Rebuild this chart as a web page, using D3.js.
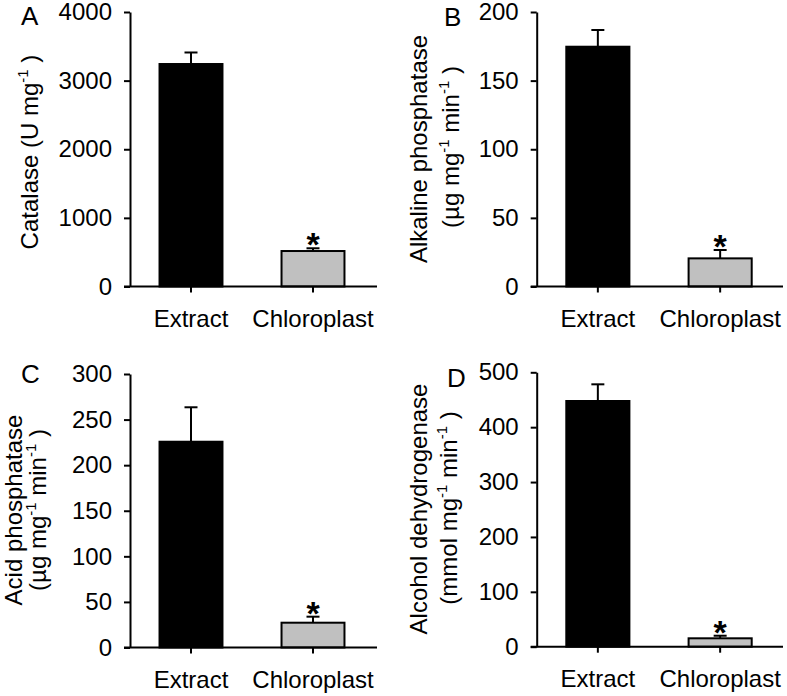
<!DOCTYPE html>
<html>
<head>
<meta charset="utf-8">
<script src="https://cdn.jsdelivr.net/npm/d3@7"></script>
<style>
  body { margin: 0; background: #fff; }
  svg { display: block; font-family: "Liberation Sans", Arial, Helvetica, sans-serif; }
</style>
</head>
<body>
<svg id="chart" width="787" height="696"></svg>
<script>
// ---------------- data ----------------
const categories = ["Extract", "Chloroplast"];
const significant = [false, true];

const catalaseValues = [3242, 517];
const catalaseErrors = [168, 40];
const catalaseTicks = [0, 1000, 2000, 3000, 4000];

const alkalineValues = [174.7, 20.5];
const alkalineErrors = [12.2, 6.1];
const alkalineTicks = [0, 50, 100, 150, 200];

const acidValues = [225.7, 27.2];
const acidErrors = [37.8, 6.6];
const acidTicks = [0, 50, 100, 150, 200, 250, 300];

const adhValues = [447.7, 15.3];
const adhErrors = [30.4, 4.7];
const adhTicks = [0, 100, 200, 300, 400, 500];

const panelLetters = ["A", "B", "C", "D"];
// y titles: array of lines; each line = array of [text, isSuperscript]
const titleA = [[["Catalase (U mg", false], ["-1", true], [" )", false]]];
const titleB = [[["Alkaline phosphatase", false]],
                [["(µg mg", false], ["-1", true], [" min", false], ["-1", true], [" )", false]]];
const titleC = [[["Acid phosphatase", false]],
                [["(µg mg", false], ["-1", true], [" min", false], ["-1", true], [" )", false]]];
const titleD = [[["Alcohol dehydrogenase", false]],
                [["(mmol mg", false], ["-1", true], [" min", false], ["-1", true], [" )", false]]];

// ---------------- layout ----------------
const FONT = 24;
const panels = [
  { letter: panelLetters[0], values: catalaseValues, errors: catalaseErrors, ticks: catalaseTicks, title: titleA,
    axisX: 130, band: [130, 374], xEnd: 377, yTop: 12, y0: 286.5,
    letterPos: [21, 25], titlePos: [[38, 152]] },
  { letter: panelLetters[1], values: alkalineValues, errors: alkalineErrors, ticks: alkalineTicks, title: titleB,
    axisX: 536.7, band: [536.7, 781.3], xEnd: 783, yTop: 12, y0: 286.5,
    letterPos: [444, 25.5], titlePos: [[427, 149], [459, 147]] },
  { letter: panelLetters[2], values: acidValues, errors: acidErrors, ticks: acidTicks, title: titleC,
    axisX: 130, band: [130, 374], xEnd: 377, yTop: 374, y0: 647.5,
    letterPos: [21, 383], titlePos: [[22, 510], [46, 510]] },
  { letter: panelLetters[3], values: adhValues, errors: adhErrors, ticks: adhTicks, title: titleD,
    axisX: 536.7, band: [536.7, 781.3], xEnd: 783, yTop: 372.3, y0: 646.7,
    letterPos: [447, 387], titlePos: [[427, 509], [457, 508]] }
];

const svg = d3.select("#chart");

panels.forEach(p => {
  const g = svg.append("g");
  const maxTick = p.ticks[p.ticks.length - 1];
  const y = d3.scaleLinear().domain([0, maxTick]).range([p.y0, p.yTop]);
  const x = d3.scaleBand().domain(categories).range(p.band).paddingInner(0.484).paddingOuter(0.242);

  // y axis
  const yAxis = d3.axisLeft(y).tickValues(p.ticks).tickSize(6).tickSizeOuter(0).tickPadding(12).tickFormat(d3.format("d"));
  const ya = g.append("g").attr("transform", `translate(${p.axisX},0)`).call(yAxis);
  ya.select(".domain").attr("stroke-width", 2);
  ya.selectAll(".tick line").attr("stroke-width", 2);
  ya.selectAll(".tick text").attr("font-size", FONT).attr("font-family", null).attr("fill", "#000");

  // bars
  g.selectAll(".bar").data(categories).enter().append("rect")
    .attr("x", d => x(d))
    .attr("width", x.bandwidth())
    .attr("y", (d, i) => y(p.values[i]))
    .attr("height", (d, i) => p.y0 - y(p.values[i]))
    .attr("fill", (d, i) => i === 0 ? "#000" : "#c0c0c0")
    .attr("stroke", "#000")
    .attr("stroke-width", 2);

  // error bars
  categories.forEach((c, i) => {
    const cx = x(c) + x.bandwidth() / 2;
    const yv = y(p.values[i]);
    const ye = y(p.values[i] + p.errors[i]);
    g.append("line").attr("x1", cx).attr("x2", cx).attr("y1", yv).attr("y2", ye)
      .attr("stroke", "#000").attr("stroke-width", 2);
    g.append("line").attr("x1", cx - 6.5).attr("x2", cx + 6.5).attr("y1", ye).attr("y2", ye)
      .attr("stroke", "#000").attr("stroke-width", 2);
    if (significant[i]) {
      g.append("text").attr("x", cx).attr("y", ye + 8)
        .attr("text-anchor", "middle").attr("font-size", 34).attr("font-weight", "bold")
        .text("*");
    }
  });

  // x axis
  const xAxis = d3.axisBottom(x).tickSize(6).tickSizeOuter(0).tickPadding(17);
  const xa = g.append("g").attr("transform", `translate(0,${p.y0})`).call(xAxis);
  xa.select(".domain").remove();
  xa.selectAll(".tick line").attr("stroke-width", 2);
  xa.selectAll(".tick text").attr("font-size", FONT).attr("font-family", null).attr("fill", "#000");
  g.append("line").attr("x1", p.axisX - 6).attr("x2", p.xEnd).attr("y1", p.y0).attr("y2", p.y0)
    .attr("stroke", "#000").attr("stroke-width", 2);

  // panel letter
  g.append("text").attr("x", p.letterPos[0]).attr("y", p.letterPos[1])
    .attr("font-size", 26).text(p.letter);

  // y title
  p.title.forEach((line, li) => {
    const [tx, ty] = p.titlePos[li];
    const t = g.append("text")
      .attr("transform", `translate(${tx},${ty}) rotate(-90)`)
      .attr("text-anchor", "middle")
      .attr("font-size", FONT);
    let raised = false;
    line.forEach(([s, sup]) => {
      const ts = t.append("tspan").text(s);
      if (sup && !raised) { ts.attr("font-size", 15).attr("dy", -10); raised = true; }
      else if (!sup && raised) { ts.attr("dy", 10); raised = false; }
      else if (sup) { ts.attr("font-size", 15); }
    });
  });
});
</script>
</body>
</html>
